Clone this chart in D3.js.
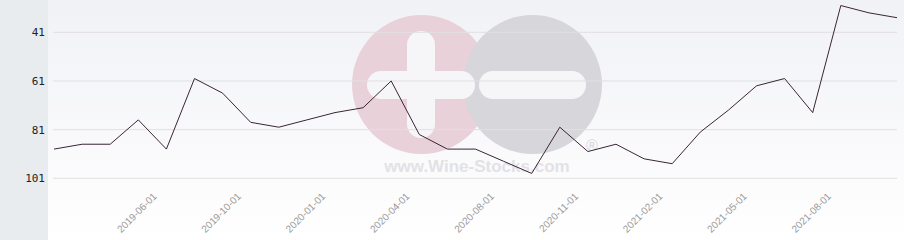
<!DOCTYPE html>
<html>
<head>
<meta charset="utf-8">
<script src="https://cdn.jsdelivr.net/npm/d3@7"></script>
<style>
    body { margin: 0; background: #fff; }
    .ylabel { font-family: "DejaVu Sans Mono", monospace; font-size: 11px; fill: #222; }
    .xlabel { font-family: "Liberation Sans", Arial, sans-serif; font-size: 10px; fill: #9a9a9a; }
</style>
</head>
<body>
<svg id="chart"></svg>
<script>
// categories (monthly points, only every 3rd is labelled)
dates = ["2019-02-01", "2019-03-01", "2019-04-01", "2019-05-01", "2019-06-01", "2019-07-01",
    "2019-09-01", "2019-10-01", "2019-11-01", "2019-12-01", "2020-01-01", "2020-02-01",
    "2020-03-01", "2020-04-01", "2020-05-01", "2020-07-01", "2020-08-01", "2020-09-01",
    "2020-10-01", "2020-11-01", "2020-12-01", "2021-01-01", "2021-02-01", "2021-03-01",
    "2021-04-01", "2021-05-01", "2021-06-01", "2021-07-01", "2021-08-01", "2021-09-01",
    "2021-10-01"]

// rank values
ranks = [89, 87, 87, 77, 89, 60, 66, 78, 80, 77, 74, 72, 61, 83, 89, 89, 94, 99,
    80, 90, 87, 93, 95, 82, 73, 63, 60, 74, 30, 33, 35]

yTicks = [41, 61, 81, 101]
xTicks = ["2019-06-01", "2019-10-01", "2020-01-01", "2020-04-01", "2020-08-01",
    "2020-11-01", "2021-02-01", "2021-05-01", "2021-08-01"]

width = 904
height = 240
panel = 48

var svg = d3.select("#chart")
    .attr("width", width)
    .attr("height", height)

// background gradient
var defs = svg.append("defs")
var grad = defs.append("linearGradient")
    .attr("id", "bg")
    .attr("x1", 0).attr("y1", 0).attr("x2", 0).attr("y2", 1)
grad.append("stop").attr("offset", "0%").attr("stop-color", "#f1f2f6")
grad.append("stop").attr("offset", "80%").attr("stop-color", "#fcfcfd")
grad.append("stop").attr("offset", "100%").attr("stop-color", "#ffffff")

svg.append("rect")
    .attr("x", panel).attr("y", 0)
    .attr("width", width - panel).attr("height", height)
    .attr("fill", "url(#bg)")

svg.append("rect")
    .attr("x", 0).attr("y", 0)
    .attr("width", panel).attr("height", height)
    .attr("fill", "#e8ecef")

// scales
const xScale = d3.scalePoint()
    .domain(dates)
    .range([54, 897])

const yScale = d3.scaleLinear()
    .domain([41, 101])
    .range([32.3, 178.3])

// watermark
var wm = svg.append("g")
wm.append("circle").attr("cx", 421.5).attr("cy", 84.5).attr("r", 69.5).attr("fill", "#e9d1d9")
wm.append("circle").attr("cx", 532.5).attr("cy", 84.5).attr("r", 69.5).attr("fill", "#d7d7db")
wm.append("rect").attr("x", 407).attr("y", 31).attr("width", 28).attr("height", 107)
    .attr("rx", 14).attr("fill", "#f6f6f9")
wm.append("rect").attr("x", 367).attr("y", 71).attr("width", 108).attr("height", 28)
    .attr("rx", 14).attr("fill", "#f6f6f9")
wm.append("rect").attr("x", 479).attr("y", 71).attr("width", 107).attr("height", 28)
    .attr("rx", 14).attr("fill", "#f6f6f9")
wm.append("text").attr("x", 477).attr("y", 172)
    .attr("text-anchor", "middle")
    .style("font-family", "Liberation Sans, Arial, sans-serif")
    .style("font-size", "17px").style("font-weight", "bold")
    .attr("fill", "#e2e2e6")
    .text("www.Wine-Stocks.com")
wm.append("text").attr("x", 592).attr("y", 151)
    .attr("text-anchor", "middle")
    .style("font-family", "Liberation Sans, Arial, sans-serif")
    .style("font-size", "16px")
    .attr("fill", "#d7d7db")
    .text("®")

// gridlines + y labels
var yAxis = svg.append("g")
yAxis.selectAll("line")
    .data(yTicks)
    .enter().append("line")
    .attr("x1", 53).attr("x2", 897)
    .attr("y1", d => yScale(d)).attr("y2", d => yScale(d))
    .attr("stroke", "#e0e0e0")
    .attr("stroke-width", 1)
yAxis.selectAll("text")
    .data(yTicks)
    .enter().append("text")
    .attr("class", "ylabel")
    .attr("x", 45)
    .attr("y", d => yScale(d) + 4)
    .attr("text-anchor", "end")
    .text(d => d)

// x labels
svg.append("g").selectAll("text")
    .data(xTicks)
    .enter().append("text")
    .attr("class", "xlabel")
    .attr("text-anchor", "end")
    .attr("transform", d => `translate(${xScale(d) - 9},${197}) rotate(-45)`)
    .text(d => d)

// the line
svg.append("path")
    .datum(ranks)
    .attr("fill", "none")
    .attr("stroke", "#3b2533")
    .attr("stroke-width", 1)
    .attr("d", d3.line()
        .x(function(d, i) { return xScale(dates[i]) })
        .y(function(d) { return yScale(d) }))
</script>
</body>
</html>
